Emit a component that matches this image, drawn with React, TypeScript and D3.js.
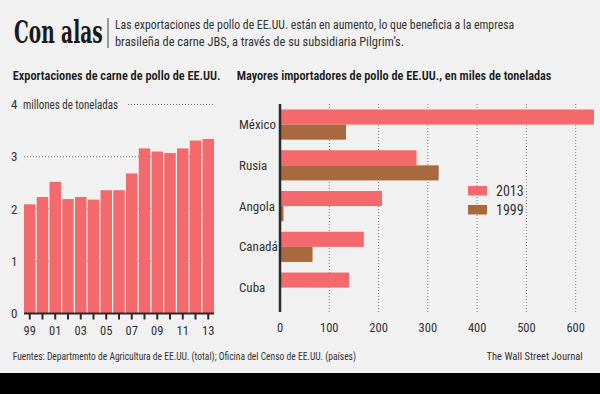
import React, { useLayoutEffect, useRef, useState } from 'react'
import * as d3 from 'd3'

// Exportaciones totales, millones de toneladas
const years = [1999, 2000, 2001, 2002, 2003, 2004, 2005, 2006, 2007, 2008, 2009, 2010, 2011, 2012, 2013]
const exportsTotal = [2.09, 2.23, 2.52, 2.19, 2.23, 2.18, 2.36, 2.36, 2.68, 3.16, 3.10, 3.07, 3.16, 3.31, 3.34]
const leftTicks = [0, 1, 2, 3, 4]

// Mayores importadores, miles de toneladas
const countries = ['México', 'Rusia', 'Angola', 'Canadá', 'Cuba']
const imports2013 = [637, 277, 207, 170, 140]
const imports1999 = [134, 322, 7, 66, 0]
const rightTicks = [0, 100, 200, 300, 400, 500, 600]

const PINK = '#f4696b'
const BROWN = '#a76a3f'
const INK = '#2a2a2a'
const TEXT = '#333333'
const FONT = "'Liberation Sans Narrow', 'Roboto Condensed', 'Open Sans', sans-serif"

// text squeezed horizontally to a given width (scale, so its box shrinks too)
function FitText({ x, y, width, children, ...rest }: any) {
  const ref = useRef<SVGTextElement>(null)
  const [k, setK] = useState(1)
  useLayoutEffect(() => {
    if (ref.current) {
      const w = ref.current.getComputedTextLength()
      if (w > 0) setK(width / w)
    }
  }, [width])
  return (
    <text ref={ref} transform={`translate(${x},${y}) scale(${k},1)`} {...rest}>{children}</text>
  )
}

export default function App() {
  const W = 600
  const H = 394

  // left chart scales
  const yLeft = d3.scaleLinear().domain([0, 4]).range([313.5, 104.5])
  const xLeft = d3.scaleBand<number>().domain(years).range([24, 214]).paddingInner(0.1)

  // right chart scales
  const xRight = d3.scaleLinear().domain([0, 600]).range([280, 575.7])
  const yRight = d3.scaleBand<string>().domain(countries).range([109.5, 302.7]).paddingInner(0.26)
  const half = yRight.bandwidth() / 2

  return (
    <svg
      width={W}
      height={H}
      style={{ position: 'absolute', left: 0, top: 0, fontFamily: FONT }}
    >
      <rect width={W} height={H} fill="#f1f1f1" />

      {/* header */}
      <FitText x={14} y={42.7} width={88.7} fontFamily="'DejaVu Serif', serif" fontWeight="bold"
        fontSize={31} fill="#1a1a1a">Con alas</FitText>
      <line x1={108} x2={108} y1={18} y2={48} stroke="#444" strokeWidth={1} />
      <FitText x={115} y={29.3} width={399} fontSize={13.4} fill={TEXT}>
        Las exportaciones de pollo de EE.UU. están en aumento, lo que beneficia a la empresa
      </FitText>
      <FitText x={115} y={46} width={289} fontSize={13.4} fill={TEXT}>
        brasileña de carne JBS, a través de su subsidiaria Pilgrim’s.
      </FitText>

      <FitText x={12.7} y={79.5} width={208} fontSize={13} fontWeight={600} fill="#1a1a1a">
        Exportaciones de carne de pollo de EE.UU.
      </FitText>
      <FitText x={236.7} y={79.5} width={315} fontSize={13} fontWeight={600} fill="#1a1a1a">
        Mayores importadores de pollo de EE.UU., en miles de toneladas
      </FitText>

      {/* left chart: grid */}
      {leftTicks.filter(t => t > 0).map(t => (
        <line key={'lg' + t} x1={t === 4 ? 128 : 24} x2={214} y1={yLeft(t)} y2={yLeft(t)}
          stroke="#777" strokeWidth={1} strokeDasharray="1,2" />
      ))}
      {leftTicks.map(t => (
        <text key={'ll' + t} x={11} y={yLeft(t)} dy="0.35em" fontSize={13} fill={TEXT}>{t}</text>
      ))}
      <FitText x={23} y={yLeft(4) + 4.5} width={95} fontSize={13} fill={TEXT}>
        millones de toneladas
      </FitText>

      {/* left chart: bars */}
      {years.map((yr, i) => (
        <rect key={'b' + yr} x={xLeft(yr)} width={xLeft.bandwidth()}
          y={yLeft(exportsTotal[i])} height={yLeft(0) - yLeft(exportsTotal[i])} fill={PINK} />
      ))}

      {/* left chart: x axis */}
      <line x1={24} x2={214} y1={yLeft(0)} y2={yLeft(0)} stroke={INK} strokeWidth={2} />
      {years.map(yr => {
        const cx = (xLeft(yr) as number) + xLeft.bandwidth() / 2
        return (
          <g key={'t' + yr}>
            <line x1={cx} x2={cx} y1={yLeft(0)} y2={yLeft(0) + 6} stroke={INK} strokeWidth={2} />
            {yr % 2 === 1 && (
              <text x={cx} y={335} textAnchor="middle" fontSize={12.5} fill={TEXT}>
                {String(yr).slice(2)}
              </text>
            )}
          </g>
        )
      })}

      {/* right chart: grid */}
      {rightTicks.filter(t => t > 0).map(t => (
        <line key={'rg' + t} x1={xRight(t)} x2={xRight(t)} y1={104} y2={312}
          stroke="#777" strokeWidth={1} strokeDasharray="1,2" />
      ))}
      {rightTicks.map(t => (
        <text key={'rl' + t} x={xRight(t)} y={332} textAnchor="middle" fontSize={12.5} fill={TEXT}>{t}</text>
      ))}

      {/* right chart: bars */}
      {countries.map((c, i) => {
        const y0 = yRight(c) as number
        return (
          <g key={'c' + c}>
            <rect x={xRight(0)} y={y0} width={xRight(imports2013[i]) - xRight(0)} height={half} fill={PINK} />
            {imports1999[i] > 0 && (
              <rect x={xRight(0)} y={y0 + half} width={xRight(imports1999[i]) - xRight(0)} height={half} fill={BROWN} />
            )}
            <text x={239} y={y0 + half} dy="0.35em" fontSize={13} fill={TEXT}>{c}</text>
          </g>
        )
      })}
      <line x1={xRight(0)} x2={xRight(0)} y1={104} y2={312} stroke={INK} strokeWidth={2.5} />

      {/* legend */}
      <rect x={468} y={186} width={19} height={9.5} fill={PINK} />
      <rect x={468} y={205} width={19} height={9.5} fill={BROWN} />
      <text x={496} y={190.7} dy="0.35em" fontSize={14} fill={TEXT}>2013</text>
      <text x={496} y={209.8} dy="0.35em" fontSize={14} fill={TEXT}>1999</text>

      {/* footer */}
      <FitText x={12.7} y={359.5} width={344} fontSize={10.5} fill={TEXT}>
        Fuentes: Departmento de Agricultura de EE.UU. (total); Oficina del Censo de EE.UU. (países)
      </FitText>
      <text x={582.7} y={359.5} fontSize={10.5} fill={TEXT} textAnchor="end">
        The Wall Street Journal
      </text>
      <rect x={0} y={373} width={W} height={H - 373} fill="#000" />
    </svg>
  )
}
